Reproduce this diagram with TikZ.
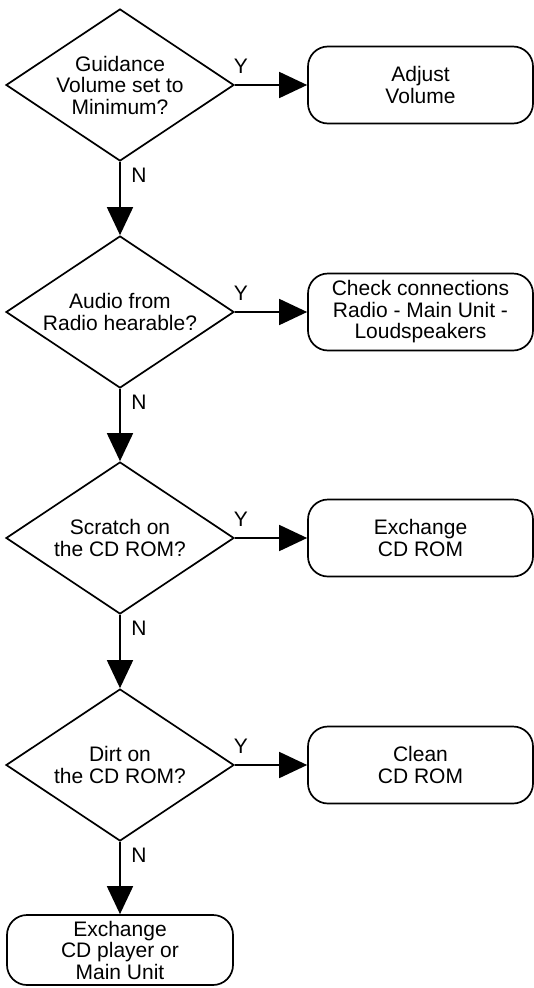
\documentclass[tikz,border=0pt]{standalone}
\usepackage{fontspec}
\setmainfont{Liberation Sans}
\usetikzlibrary{shapes.geometric,arrows.meta}
\begin{document}
\begin{tikzpicture}[x=1pt,y=-1pt,
  every node/.style={font=\fontsize{21}{21.5}\selectfont},
  decision/.style={draw,line width=1.7pt,diamond,aspect=1.5,inner sep=0pt,
    minimum width=228pt,minimum height=152pt,align=center},
  action/.style={draw,line width=1.7pt,rectangle,rounded corners=20pt,
    minimum width=225pt,minimum height=77pt,align=center},
  flow/.style={line width=1.7pt,-{Triangle[length=28pt,width=26pt]}},
  lbl/.style={inner sep=0pt}]
\useasboundingbox (0,0) rectangle (534,988);
\node[decision] (d1) at (120,85) {Guidance\\Volume set to\\Minimum?};
\node[decision] (d2) at (120,312) {Audio from\\Radio hearable?};
\node[decision] (d3) at (120,538) {Scratch on\\the CD ROM?};
\node[decision] (d4) at (120,765) {Dirt on\\the CD ROM?};
\node[action] (b1) at (420.5,85) {Adjust\\Volume};
\node[action] (b2) at (420.5,312) {Check connections\\Radio - Main Unit -\\Loudspeakers};
\node[action] (b3) at (420.5,538) {Exchange\\CD ROM};
\node[action] (b4) at (420.5,765) {Clean\\CD ROM};
\node[action,minimum width=226pt,minimum height=70pt] (b5) at (120,950) {Exchange\\CD player or\\Main Unit};
\foreach \i in {1,2,3,4} {
  \draw[flow] (d\i.east) -- (b\i.west);
  \node[lbl] (y\i) at ([shift={(6,-19)}]d\i.east) {Y};
  \node[lbl] (n\i) at ([shift={(19,13)}]d\i.south) {N};
}
\draw[flow] (d1.south) -- (d2.north);
\draw[flow] (d2.south) -- (d3.north);
\draw[flow] (d3.south) -- (d4.north);
\draw[flow] (d4.south) -- (b5.north);
\end{tikzpicture}
\end{document}
